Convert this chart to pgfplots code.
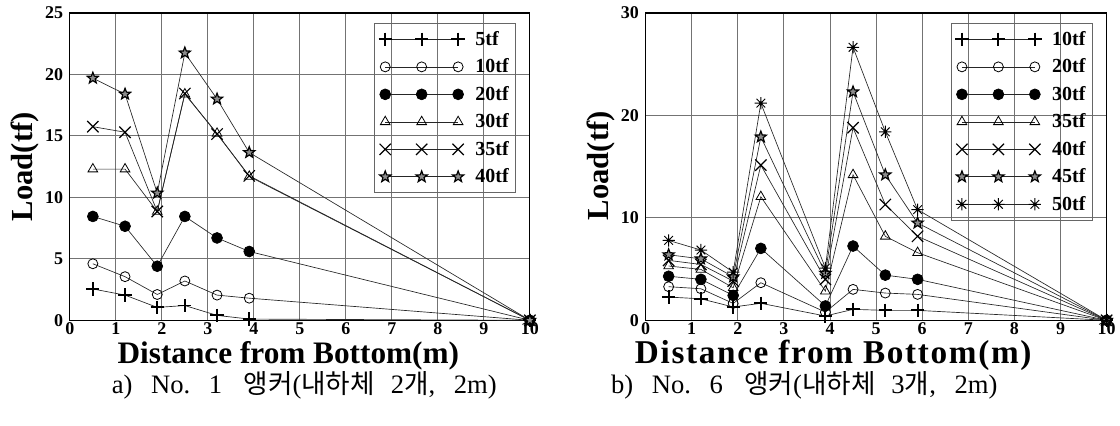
\documentclass[border=0pt]{standalone}
\usepackage{fontspec}
\setmainfont{Liberation Serif}
\newfontfamily\cjk{Noto Sans CJK KR}
\newfontfamily\spaced[LetterSpace=5]{Liberation Serif}
\usepackage{pgfplots}
\pgfplotsset{compat=1.18}
\usetikzlibrary{plotmarks}

\pgfdeclareplotmark{fivestar}{%
  \pgfpathmoveto{\pgfqpoint{0pt}{\pgfplotmarksize}}%
  \pgfpathlineto{\pgfqpoint{-.247\pgfplotmarksize}{.340\pgfplotmarksize}}%
  \pgfpathlineto{\pgfqpoint{-.951\pgfplotmarksize}{.309\pgfplotmarksize}}%
  \pgfpathlineto{\pgfqpoint{-.399\pgfplotmarksize}{-.130\pgfplotmarksize}}%
  \pgfpathlineto{\pgfqpoint{-.588\pgfplotmarksize}{-.809\pgfplotmarksize}}%
  \pgfpathlineto{\pgfqpoint{0pt}{-.42\pgfplotmarksize}}%
  \pgfpathlineto{\pgfqpoint{.588\pgfplotmarksize}{-.809\pgfplotmarksize}}%
  \pgfpathlineto{\pgfqpoint{.399\pgfplotmarksize}{-.130\pgfplotmarksize}}%
  \pgfpathlineto{\pgfqpoint{.951\pgfplotmarksize}{.309\pgfplotmarksize}}%
  \pgfpathlineto{\pgfqpoint{.247\pgfplotmarksize}{.340\pgfplotmarksize}}%
  \pgfpathclose
  \pgfusepathqfillstroke
}
\pgfdeclareplotmark{burst}{%
  \pgfpathmoveto{\pgfqpoint{-\pgfplotmarksize}{0pt}}%
  \pgfpathlineto{\pgfqpoint{\pgfplotmarksize}{0pt}}%
  \pgfpathmoveto{\pgfqpoint{0pt}{-\pgfplotmarksize}}%
  \pgfpathlineto{\pgfqpoint{0pt}{\pgfplotmarksize}}%
  \pgfpathmoveto{\pgfqpoint{-.7071\pgfplotmarksize}{-.7071\pgfplotmarksize}}%
  \pgfpathlineto{\pgfqpoint{.7071\pgfplotmarksize}{.7071\pgfplotmarksize}}%
  \pgfpathmoveto{\pgfqpoint{-.7071\pgfplotmarksize}{.7071\pgfplotmarksize}}%
  \pgfpathlineto{\pgfqpoint{.7071\pgfplotmarksize}{-.7071\pgfplotmarksize}}%
  \pgfusepathqstroke
  \pgfpathcircle{\pgfpoint{0pt}{0pt}}{.3\pgfplotmarksize}%
  \pgfusepathqfill
}

\pgfplotsset{
  myaxis/.style={
    scale only axis, height=231pt,
    xmin=0, xmax=10, ymin=0,
    xtick={0,1,...,10},
    grid=major,
    major grid style={black!55, line width=0.7pt},
    axis line style={line width=0.9pt},
    major tick length=0pt,
    tick label style={font=\fontsize{13.5}{13.5}\selectfont\bfseries},
    /pgf/number format/assume math mode=true,
    yticklabel style={xshift=-1.5pt},
    xticklabel style={yshift=0.5pt, inner ysep=2pt},
    clip=false,
    legend cell align=left,
    legend style={font=\fontsize{15}{15}\selectfont\bfseries, draw=black!60, line width=0.6pt, fill=none,
      anchor=north west, inner xsep=3pt, inner ysep=4pt, row sep=4.6pt, column sep=6pt},
    legend image code/.code={\draw[##1, mark repeat=1] plot coordinates {(0pt,0pt) (27.4pt,0pt) (54.8pt,0pt)};},
    every axis y label/.style={at={(axis description cs:-0.082,0.5)}, rotate=90, anchor=base,
      font=\fontsize{23}{23}\selectfont\bfseries},
  },
  sA/.style={black!85, line width=0.5pt, mark=+, mark size=5pt, mark options={black, line width=1.4pt}},
  sB/.style={black!85, line width=0.5pt, mark=o, mark size=3.75pt, mark options={black, line width=0.6pt}},
  sC/.style={black!85, line width=0.5pt, mark=*, mark size=4.1pt, mark options={black, fill=black}},
  sD/.style={black!85, line width=0.5pt, mark=triangle, mark size=4.2pt, mark options={black, line width=0.6pt}},
  sE/.style={black!85, line width=0.5pt, mark=x, mark size=6pt, mark options={black, line width=0.9pt}},
  sF/.style={black!85, line width=0.5pt, mark=fivestar, mark size=4.4pt, mark options={draw=black, fill=black!45, line width=0.9pt}},
  sG/.style={black!85, line width=0.5pt, mark=burst, mark size=4.6pt, mark options={black, line width=0.7pt}},
}

\begin{document}
\begin{tikzpicture}
\path (0pt,0pt) rectangle (840pt,-319.5pt);

% ---------------- left ----------------
\begin{axis}[myaxis, at={(52.5pt,-240.75pt)}, anchor=south west, width=345.75pt,
  ymax=25, ytick={0,5,...,25},
  xlabel={Distance from Bottom(m)},
  xlabel style={at={(axis description cs:0.475,0)}, anchor=base, yshift=-32.5pt, inner sep=0.5pt,
    font=\fontsize{23.5}{23.5}\selectfont\bfseries},
  ylabel={Load(tf)},
  legend style={at={(rel axis cs:0.6616,0.9675)}},
]
\addplot[sA] coordinates {(0.5,2.55) (1.2,2.05) (1.9,1.05) (2.5,1.2) (3.2,0.4) (3.9,0.1) (10,0)};
\addlegendentry{5tf}
\addplot[sB] coordinates {(0.5,4.6) (1.2,3.55) (1.9,2.1) (2.5,3.2) (3.2,2.05) (3.9,1.8) (10,0)};
\addlegendentry{10tf}
\addplot[sC] coordinates {(0.5,8.45) (1.2,7.65) (1.9,4.4) (2.5,8.45) (3.2,6.7) (3.9,5.6) (10,0)};
\addlegendentry{20tf}
\addplot[sD] coordinates {(0.5,12.3) (1.2,12.3) (1.9,8.85) (2.5,18.4) (3.2,15.2) (3.9,11.7) (10,0)};
\addlegendentry{30tf}
\addplot[sE] coordinates {(0.5,15.75) (1.2,15.3) (1.9,8.85) (2.5,18.45) (3.2,15.15) (3.9,11.75) (10,0)};
\addlegendentry{35tf}
\addplot[sF] coordinates {(0.5,19.7) (1.2,18.4) (1.9,10.35) (2.5,21.75) (3.2,18.0) (3.9,13.65) (10,0)};
\addlegendentry{40tf}
\end{axis}

% ---------------- right ----------------
\begin{axis}[myaxis, at={(485.25pt,-240.75pt)}, anchor=south west, width=346.5pt,
  ymax=30, ytick={0,10,20,30},
  xlabel={\spaced Distance from Bottom(m)},
  xlabel style={at={(axis description cs:0.407,0)}, anchor=base, yshift=-32.5pt, inner sep=0.5pt,
    font=\fontsize{25}{25}\selectfont\bfseries},
  ylabel={Load(tf)},
  every axis y label/.append style={at={(axis description cs:-0.080,0.503)}},
  legend style={at={(rel axis cs:0.6623,0.9675)}},
]
\addplot[sA] coordinates {(0.5,2.27) (1.2,2.1) (1.9,1.3) (2.5,1.66) (3.9,0.42) (4.5,1.07) (5.2,0.97) (5.9,0.97) (10,0)};
\addlegendentry{10tf}
\addplot[sB] coordinates {(0.5,3.28) (1.2,3.08) (1.9,1.65) (2.5,3.67) (3.9,0.8) (4.5,3.02) (5.2,2.66) (5.9,2.53) (10,0)};
\addlegendentry{20tf}
\addplot[sC] coordinates {(0.5,4.3) (1.2,4.0) (1.9,2.43) (2.5,7.02) (3.9,1.4) (4.5,7.25) (5.2,4.41) (5.9,4.0) (10,0)};
\addlegendentry{30tf}
\addplot[sD] coordinates {(0.5,5.3) (1.2,4.97) (1.9,3.18) (2.5,12.06) (3.9,2.85) (4.5,14.2) (5.2,8.2) (5.9,6.6) (10,0)};
\addlegendentry{35tf}
\addplot[sE] coordinates {(0.5,5.85) (1.2,5.45) (1.9,3.83) (2.5,15.15) (3.9,4.0) (4.5,18.8) (5.2,11.3) (5.9,8.2) (10,0)};
\addlegendentry{40tf}
\addplot[sF] coordinates {(0.5,6.4) (1.2,6.0) (1.9,4.25) (2.5,17.9) (3.9,4.6) (4.5,22.3) (5.2,14.2) (5.9,9.5) (10,0)};
\addlegendentry{45tf}
\addplot[sG] coordinates {(0.5,7.8) (1.2,6.86) (1.9,4.7) (2.5,21.2) (3.9,5.1) (4.5,26.65) (5.2,18.4) (5.9,10.8) (10,0)};
\addlegendentry{50tf}
\end{axis}

% captions
\node[anchor=base, inner sep=0.5pt, font=\fontsize{20}{20}\selectfont] at (228.75pt,-295.5pt)
  {a)\hspace{0.7em}No.\hspace{0.7em}1\hspace{0.8em}{\cjk 앵커}({\cjk 내하체}\hspace{0.6em}2{\cjk 개},\hspace{0.7em}2m)};
\node[anchor=base, inner sep=0.5pt, font=\fontsize{20}{20}\selectfont] at (604.5pt,-295.5pt)
  {b)\hspace{0.7em}No.\hspace{0.7em}6\hspace{0.8em}{\cjk 앵커}({\cjk 내하체}\hspace{0.6em}3{\cjk 개},\hspace{0.7em}2m)};
\end{tikzpicture}
\end{document}
